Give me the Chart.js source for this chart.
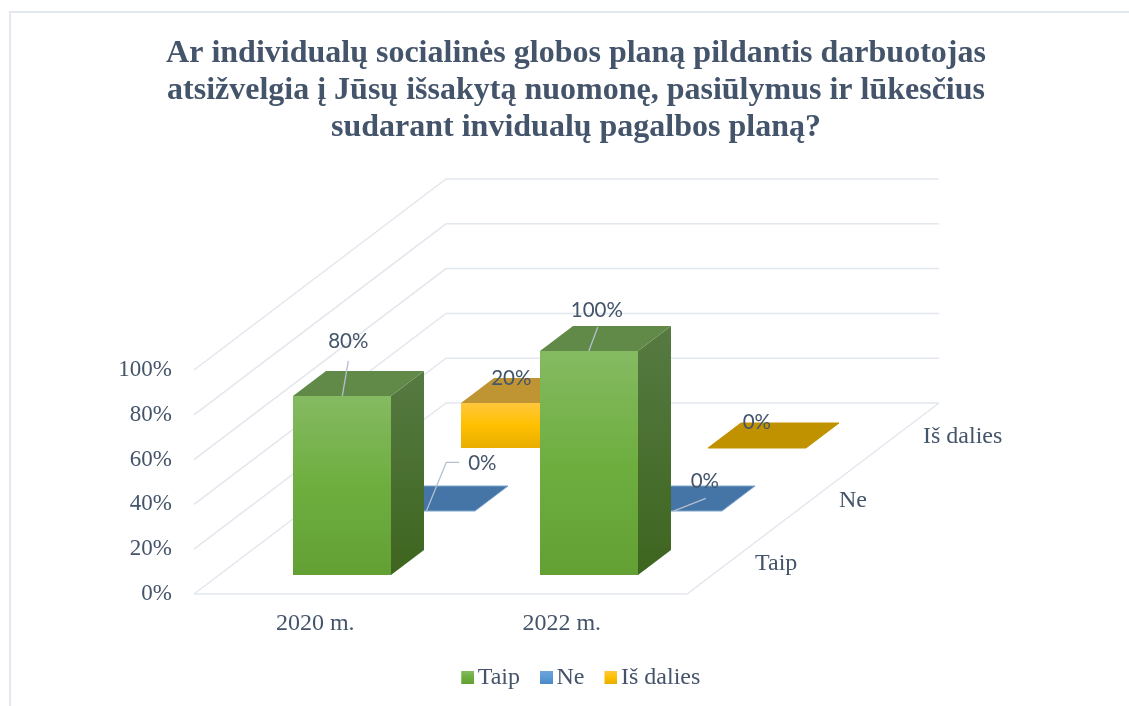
<!DOCTYPE html>
<html>
<head>
<meta charset="utf-8">
<title>Individualus planas</title>
<script src="https://cdn.jsdelivr.net/npm/chart.js@4"></script>
<style>
  html, body { margin: 0; padding: 0; background: #fff; overflow: hidden; }
  canvas { display: block; }
</style>
</head>
<body>
<canvas id="chart" width="1129" height="706"></canvas>
<script>
const titleLines = [
  'Ar individualų socialinės globos planą pildantis darbuotojas',
  'atsižvelgia į Jūsų išsakytą nuomonę, pasiūlymus ir lūkesčius',
  'sudarant invidualų pagalbos planą?'
];
const years = ['2020 m.', '2022 m.'];
const seriesNames = ['Taip', 'Ne', 'Iš dalies'];
const taipValues = [80, 100];
const neValues = [0, 0];
const isDaliesValues = [20, 0];

const TEXT = '#44546a';
const GRID = '#e3e7ee';
const SERIF = '"Liberation Serif", serif';

// oblique projection of the floor, px for the full depth of the chart
const DEPTH_X = 252;
const DEPTH_Y = 191;
const ROW = 1 / 3;
const BAR_GAP = 19 / 191;
const BAR_DEPTH = 25 / 191;

const faces = [
  { front: ['#85ba62', '#6eae3f', '#63a034'], top: '#618a49', side: ['#567a42', '#3e651f'], flat: '#618a49', edge: '#8dc06c' },
  { front: ['#6fa3da', '#5b9bd5', '#4a88c2'], top: '#4475a6', side: ['#4475a6', '#3a6a98'], flat: '#4475a6', edge: '#7fa7cd' },
  { front: ['#ffc73c', '#ffc000', '#e8ad00'], top: '#bf9534', side: ['#bf9534', '#a88000'], flat: '#c09200', edge: '#c09200' }
];

// label and leader offsets from the middle of each bar's front top edge
const labelPlacement = [
  [{ at: [6, -54], leader: [[6, -35]] }, { at: [8, -41], leader: [[9, -24]] }],
  [{ at: [56, -48], leader: [[20, -49], [33, -49]] }, { at: [32, -30], leader: [[33, -13]] }],
  [{ at: [1, -24], leader: [] }, { at: [0, -25], leader: [] }]
];

function shift(x, y, d) {
  return [x + d * DEPTH_X, y - d * DEPTH_Y];
}

function poly(ctx, pts, fill, stroke) {
  ctx.beginPath();
  pts.forEach((p, i) => (i ? ctx.lineTo(p[0], p[1]) : ctx.moveTo(p[0], p[1])));
  ctx.closePath();
  ctx.fillStyle = fill;
  ctx.fill();
  if (stroke) {
    ctx.strokeStyle = stroke;
    ctx.lineWidth = 1;
    ctx.stroke();
  }
}

function vGradient(ctx, y0, y1, stops) {
  const g = ctx.createLinearGradient(0, y0, 0, y1);
  stops.forEach((c, i) => g.addColorStop(i / (stops.length - 1), c));
  return g;
}

function swatch(stops) {
  // extra room on the left pulls the square closer to its legend text
  const c = document.createElement('canvas');
  c.width = 18;
  c.height = 13;
  const g = c.getContext('2d');
  g.fillStyle = vGradient(g, 0, 13, stops);
  g.fillRect(5, 0, 13, 13);
  return c;
}

function drawWalls(chart) {
  const ctx = chart.ctx;
  const { x, y } = chart.scales;
  const left = x.left, right = x.right;
  ctx.save();
  ctx.strokeStyle = GRID;
  ctx.lineWidth = 1.5;
  y.ticks.forEach(t => {
    const py = y.getPixelForValue(t.value);
    const a = shift(left, py, 1);
    const b = shift(right, py, 1);
    ctx.beginPath();
    ctx.moveTo(left, py);
    ctx.lineTo(a[0], a[1]);
    ctx.lineTo(b[0], b[1]);
    ctx.stroke();
  });
  const floor = y.getPixelForValue(0);
  const end = shift(right, floor, 1);
  ctx.beginPath();
  ctx.moveTo(left, floor);
  ctx.lineTo(right, floor);
  ctx.lineTo(end[0], end[1]);
  ctx.stroke();
  ctx.restore();
}

function drawBar(ctx, bar, row) {
  const f = faces[row];
  const d0 = row * ROW + BAR_GAP;
  const d1 = d0 + BAR_DEPTH;
  const half = bar.width / 2;
  const [xl0, yt0] = shift(bar.x - half, bar.y, d0);
  const [xr0, yb0] = shift(bar.x + half, bar.base, d0);
  // snap to whole pixels, otherwise the rows behind leak through the seams
  const xl = Math.round(xl0), xr = Math.round(xr0), yt = Math.round(yt0), yb = Math.round(yb0);
  const dx = Math.round((d1 - d0) * DEPTH_X);
  const dy = Math.round((d1 - d0) * DEPTH_Y);
  if (yb - yt < 1) {
    poly(ctx, [[xl, yb], [xr, yb], [xr + dx, yb - dy], [xl + dx, yb - dy]], f.flat, f.edge);
    return;
  }
  poly(ctx, [[xr, yt], [xr + dx, yt - dy], [xr + dx, yb - dy], [xr, yb]], vGradient(ctx, yt - dy, yb, f.side));
  poly(ctx, [[xl, yt], [xr, yt], [xr + dx, yt - dy], [xl + dx, yt - dy]], f.top);
  poly(ctx, [[xl, yt], [xr, yt], [xr, yb], [xl, yb]], vGradient(ctx, yt, yb, f.front));
}

function drawLabels(chart) {
  const ctx = chart.ctx;
  ctx.save();
  ctx.font = '20.5px Lato';
  ctx.textAlign = 'center';
  ctx.textBaseline = 'middle';
  chart.data.datasets.forEach((ds, row) => {
    chart.getDatasetMeta(row).data.forEach((bar, i) => {
      const d0 = row * ROW + BAR_GAP;
      const [ax, ay] = shift(bar.x, bar.y, d0);
      const place = labelPlacement[row][i];
      if (place.leader.length) {
        ctx.strokeStyle = '#b4bfcf';
        ctx.lineWidth = 1.3;
        ctx.beginPath();
        ctx.moveTo(ax, ay);
        place.leader.forEach(p => ctx.lineTo(ax + p[0], ay + p[1]));
        ctx.stroke();
      }
      ctx.fillStyle = TEXT;
      ctx.fillText(ds.data[i] + '%', ax + place.at[0], ay + place.at[1]);
    });
  });
  ctx.restore();
}

function drawDepthLabels(chart) {
  const ctx = chart.ctx;
  const { x, y } = chart.scales;
  ctx.save();
  ctx.font = '24px ' + SERIF;
  ctx.fillStyle = TEXT;
  ctx.textAlign = 'left';
  ctx.textBaseline = 'middle';
  seriesNames.forEach((name, i) => {
    const [px, py] = shift(x.right, y.getPixelForValue(0), (i + 0.5) * ROW);
    ctx.fillText(name, px + 26, py + 2);
  });
  ctx.restore();
}

const bars3d = {
  id: 'bars3d',
  afterLayout(chart) {
    chart.legend.left += 6.5;
    chart.legend.right += 6.5;
    chart.legend.top -= 6.5;
  },
  beforeDraw(chart) {
    const ctx = chart.ctx;
    ctx.save();
    ctx.fillStyle = '#fff';
    ctx.fillRect(0, 0, chart.width, chart.height);
    ctx.strokeStyle = GRID;
    ctx.lineWidth = 2;
    ctx.beginPath();
    ctx.moveTo(chart.width, 12);
    ctx.lineTo(10, 12);
    ctx.lineTo(10, chart.height);
    ctx.stroke();
    ctx.restore();
  },
  beforeDatasetsDraw(chart) {
    drawWalls(chart);
    for (let row = chart.data.datasets.length - 1; row >= 0; row--) {
      chart.getDatasetMeta(row).data.forEach(bar => drawBar(chart.ctx, bar, row));
    }
    drawLabels(chart);
    drawDepthLabels(chart);
    return false;
  }
};

const barOpts = { grouped: false, barPercentage: 0.3976, categoryPercentage: 1 };

new Chart(document.getElementById('chart'), {
  type: 'bar',
  data: {
    labels: years,
    datasets: [
      { label: seriesNames[0], data: taipValues, ...barOpts },
      { label: seriesNames[1], data: neValues, ...barOpts },
      { label: seriesNames[2], data: isDaliesValues, ...barOpts }
    ]
  },
  plugins: [bars3d],
  options: {
    responsive: false,
    animation: false,
    layout: { padding: { left: 23, right: 0, top: 0, bottom: 0 } },
    plugins: {
      tooltip: { enabled: false },
      title: {
        display: true,
        text: titleLines,
        color: TEXT,
        font: { family: SERIF, size: 32, weight: 'bold', lineHeight: 1.156 },
        padding: { top: 35, bottom: 224 }
      },
      legend: {
        position: 'bottom',
        labels: {
          color: TEXT,
          font: { family: SERIF, size: 24 },
          usePointStyle: true,
          boxWidth: 1,
          boxHeight: 13,
          padding: 23.5,
          generateLabels: () => seriesNames.map((name, i) => ({
            text: name,
            pointStyle: swatch(faces[i].front),
            fontColor: TEXT,
            lineWidth: 0,
            datasetIndex: i
          }))
        }
      }
    },
    scales: {
      x: {
        grid: { display: false, drawTicks: false },
        border: { display: false },
        ticks: { color: TEXT, font: { family: SERIF, size: 24 }, padding: 15, labelOffset: -2, maxRotation: 0 },
        afterFit(s) { s.height = 54.5; }
      },
      y: {
        min: 0,
        max: 100,
        grid: { display: false, drawTicks: false },
        border: { display: false },
        ticks: {
          stepSize: 20,
          color: TEXT,
          font: { family: SERIF, size: 23 },
          padding: 22,
          callback: v => v + '%'
        },
        afterFit(s) { s.width = 171; }
      },
      depth: {
        type: 'category',
        position: 'right',
        labels: seriesNames,
        grid: { display: false, drawTicks: false },
        border: { display: false },
        ticks: { display: false },
        afterFit(s) { s.width = 442; }
      }
    }
  }
});
</script>
</body>
</html>
